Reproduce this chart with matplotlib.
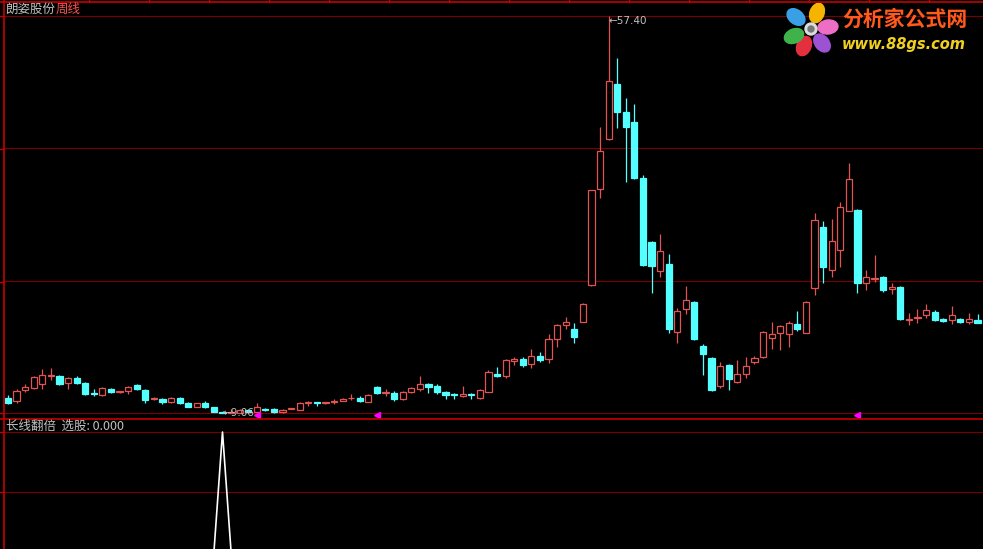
import matplotlib
matplotlib.use('Agg')
import matplotlib.pyplot as plt
from matplotlib.patches import Rectangle, Ellipse, Circle
import numpy as np

plt.rcParams['font.family'] = ['Noto Sans CJK SC', 'DejaVu Sans']

# weekly candles
opens = [10.92, 10.55, 11.89, 12.14, 12.62, 13.54, 13.60, 12.75, 13.36, 12.75,
         11.52, 11.28, 12.01, 11.59, 11.77, 12.50, 11.89, 10.73, 10.79, 10.43,
         10.92, 10.31, 9.82, 10.31, 9.82, 9.21, 9.12, 9.10, 9.45, 9.15,
         9.58, 9.58, 9.15, 9.55, 9.45, 10.28, 10.35, 10.28, 10.40, 10.55,
         10.85, 10.92, 10.43, 12.26, 11.48, 11.52, 10.79, 11.65, 12.01, 12.62,
         12.38, 11.65, 11.40, 11.16, 11.40, 10.92, 11.65, 13.84, 13.60, 15.43,
         15.67, 15.06, 16.04, 15.67, 18.11, 19.83, 19.33, 20.19, 24.70, 36.29,
         42.39, 49.10, 45.69, 44.47, 37.63, 29.83, 26.29, 27.26, 18.97, 21.77,
         22.63, 17.26, 15.80, 12.38, 14.94, 12.87, 13.84, 15.31, 15.92, 18.24,
         18.85, 18.73, 19.94, 18.85, 24.34, 31.66, 26.53, 28.85, 33.61, 33.73,
         24.95, 25.38, 25.68, 24.21, 24.46, 20.43, 20.67, 21.04, 21.41, 20.55,
         20.43, 20.55, 20.19, 20.43]
highs = [11.28, 12.01, 12.62, 13.60, 14.45, 14.58, 13.72, 13.48, 13.60, 12.87,
         12.01, 12.26, 12.14, 11.77, 12.38, 12.62, 12.01, 11.04, 10.92, 11.04,
         11.04, 10.43, 10.31, 10.55, 9.82, 9.33, 9.58, 9.58, 9.58, 10.31,
         9.62, 9.65, 9.50, 9.70, 10.35, 10.55, 10.40, 10.43, 10.79, 10.85,
         11.40, 11.16, 11.32, 12.38, 12.01, 11.77, 11.77, 12.26, 13.60, 12.75,
         12.62, 11.77, 11.45, 12.38, 11.45, 12.01, 14.33, 14.70, 15.67, 15.92,
         15.92, 16.89, 16.53, 18.66, 19.94, 20.80, 20.07, 22.45, 36.25, 43.86,
         57.40, 52.27, 47.39, 46.66, 38.00, 29.95, 30.80, 28.36, 21.90, 24.58,
         22.75, 17.50, 15.92, 15.31, 15.06, 15.55, 15.92, 16.04, 19.09, 20.19,
         19.83, 20.31, 21.53, 22.75, 33.36, 32.39, 32.63, 34.71, 39.46, 33.85,
         26.53, 28.24, 25.80, 24.83, 24.58, 21.29, 21.77, 22.39, 21.65, 20.67,
         22.14, 20.67, 21.29, 21.16]
lows = [10.18, 10.31, 11.65, 12.01, 12.01, 13.04, 12.50, 12.01, 12.62, 11.28,
        11.16, 11.16, 11.52, 11.52, 11.40, 11.89, 10.31, 10.67, 10.18, 10.31,
        10.18, 9.82, 9.82, 9.70, 9.21, 9.06, 9.08, 9.08, 9.10, 9.10,
        9.35, 9.10, 9.10, 9.50, 9.42, 9.94, 9.94, 10.20, 10.18, 10.50,
        10.67, 10.43, 10.40, 11.40, 11.16, 10.55, 10.67, 11.52, 11.77, 11.52,
        11.40, 10.79, 10.79, 11.04, 10.79, 10.79, 11.60, 13.48, 13.36, 14.94,
        14.70, 14.58, 15.31, 15.19, 17.08, 19.33, 17.63, 20.12, 24.58, 35.19,
        42.30, 43.73, 37.14, 37.51, 27.02, 23.73, 25.68, 18.85, 17.63, 21.16,
        17.99, 13.72, 11.77, 12.14, 11.89, 12.75, 13.36, 15.06, 15.80, 16.89,
        16.77, 17.14, 19.09, 18.80, 23.48, 24.95, 25.68, 26.78, 33.60, 23.73,
        24.09, 25.07, 23.85, 23.60, 20.43, 19.82, 20.07, 20.67, 20.31, 20.19,
        19.94, 20.07, 19.94, 20.00]
closes = [10.31, 11.77, 12.26, 13.48, 13.72, 13.66, 12.62, 13.36, 12.75, 11.40,
          11.40, 12.14, 11.65, 11.71, 12.26, 12.01, 10.67, 10.85, 10.43, 10.92,
          10.31, 9.82, 10.31, 9.82, 9.21, 9.09, 9.20, 9.45, 9.15, 9.82,
          9.45, 9.15, 9.45, 9.62, 10.31, 10.35, 10.28, 10.35, 10.47, 10.79,
          10.92, 10.55, 11.28, 11.52, 11.56, 10.79, 11.65, 12.14, 12.62, 12.26,
          11.65, 11.28, 11.30, 11.40, 11.28, 11.89, 14.09, 13.60, 15.55, 15.67,
          14.94, 16.04, 15.55, 18.03, 19.83, 20.19, 18.36, 22.39, 36.17, 40.93,
          49.47, 45.69, 43.86, 37.63, 27.14, 26.90, 28.73, 19.33, 21.53, 22.87,
          18.11, 16.28, 11.89, 14.82, 13.23, 13.84, 14.82, 15.80, 18.97, 18.73,
          19.70, 20.07, 19.33, 22.63, 32.51, 26.78, 29.95, 34.10, 37.51, 24.83,
          25.68, 25.50, 24.09, 24.46, 20.55, 20.55, 20.80, 21.65, 20.43, 20.31,
          21.04, 20.19, 20.55, 20.07]

# 长线翻倍 选股 signal
signal = [0, 0, 0, 0, 0, 0, 0, 0, 0, 0,
          0, 0, 0, 0, 0, 0, 0, 0, 0, 0,
          0, 0, 0, 0, 0, 1, 0, 0, 0, 0,
          0, 0, 0, 0, 0, 0, 0, 0, 0, 0,
          0, 0, 0, 0, 0, 0, 0, 0, 0, 0,
          0, 0, 0, 0, 0, 0, 0, 0, 0, 0,
          0, 0, 0, 0, 0, 0, 0, 0, 0, 0,
          0, 0, 0, 0, 0, 0, 0, 0, 0, 0,
          0, 0, 0, 0, 0, 0, 0, 0, 0, 0,
          0, 0, 0, 0, 0, 0, 0, 0, 0, 0,
          0, 0, 0, 0, 0, 0, 0, 0, 0, 0,
          0, 0, 0, 0]
marks = [29, 43, 99]

UP = '#e05454'
DOWN = '#54ffff'
FRAME = '#c40000'
GRID = '#780000'
TXT = '#c0c0c0'

W, H = 983, 549
step = 8.58  # px per candle


def box(x0, y0, x1, y1):
    return [x0 / W, 1 - y1 / H, (x1 - x0) / W, (y1 - y0) / H]


fig = plt.figure(figsize=(W / 100, H / 100), dpi=100, facecolor='black')

# main price panel
ax = fig.add_axes(box(4, 2, 983, 419))
ax.set_axis_off()
n = len(opens)
hi, lo = max(highs), min(lows)
scale = (hi - lo) / (413 - 16)
ax.set_xlim((4 - 8) / step, (983 - 8) / step)
ax.set_ylim(lo - (419 - 413) * scale, hi + (16 - 2) * scale)

for v in np.linspace(lo, hi, 4):
    ax.axhline(v, color=GRID, lw=0.8, zorder=0)

bw = 0.72
for i, (o, h, l, c) in enumerate(zip(opens, highs, lows, closes)):
    if c >= o:
        top = max(c, o + 0.06)
        ax.vlines(i, top, h, color=UP, lw=0.9)
        ax.vlines(i, l, o, color=UP, lw=0.9)
        ax.add_patch(Rectangle((i - bw / 2, o), bw, top - o, facecolor='black',
                               edgecolor=UP, lw=0.9, zorder=2))
    else:
        ax.vlines(i, l, h, color=DOWN, lw=0.9)
        ax.add_patch(Rectangle((i - bw / 2, c), bw, o - c, facecolor=DOWN,
                               edgecolor=DOWN, lw=0.9, zorder=2))

ax.plot(marks, [lo - 2 * scale] * len(marks), linestyle='none', marker='<',
        ms=5, color='#ff00ff', zorder=4)

hi_i = highs.index(hi)
lo_i = lows.index(lo)
ax.text(hi_i, hi, '←%.2f' % hi, color=TXT, fontsize=7.5, va='top', ha='left',
        family='DejaVu Sans', zorder=5)
ax.text(lo_i, lo, '←%.2f' % lo, color=TXT, fontsize=7.5, va='center', ha='left',
        family='DejaVu Sans', zorder=5)

# indicator panel
sub = fig.add_axes(box(4, 419, 983, 549))
sub.set_axis_off()
per = 0.5 / (492 - 432)
sub.set_xlim(ax.get_xlim())
sub.set_ylim(1 - (549 - 432) * per, 1 + (432 - 419) * per)
for v in [1.0, 0.5]:
    sub.axhline(v, color=GRID, lw=0.8, zorder=0)
sub.plot(range(n), signal, color='white', lw=1.2)

# frame, header, logo
deco = fig.add_axes([0, 0, 1, 1])
deco.set_axis_off()
deco.set_xlim(0, W)
deco.set_ylim(H, 0)
deco.plot([0, W], [2, 2], color=FRAME, lw=1.2)
deco.plot([4, 4], [0, H], color=FRAME, lw=1.2)
deco.plot([0, W], [419, 419], color=FRAME, lw=1.2)
for x in range(89, W, 60):
    deco.plot([x, x], [0, 2], color=FRAME, lw=1)
for y in [16, 149, 282, 413, 432, 492]:
    deco.plot([0, 4], [y, y], color=FRAME, lw=1)

fig.text(5 / W, 1 - 9 / H, '朗姿股份', color=TXT, fontsize=9, va='center')
fig.text(56 / W, 1 - 9 / H, '周线', color='#ff5050', fontsize=9, va='center')
fig.text(6 / W, 1 - 426 / H, '长线翻倍  选股: %.3f' % signal[-1], color=TXT,
         fontsize=9, va='center')

petals = [(817, 13, '#f5b400'), (828, 27, '#ee6ec6'), (822, 43, '#9c52d2'),
          (804, 46, '#e4303e'), (794, 36, '#3fb24a'), (796, 17, '#3aa0e6')]
cx, cy = 811, 29
for px, py, col in petals:
    ang = np.degrees(np.arctan2(py - cy, px - cx))
    deco.add_patch(Ellipse((px, py), 20, 14, angle=ang, color=col))
deco.add_patch(Circle((cx, cy), 6, color='#dddddd'))
deco.add_patch(Circle((cx, cy), 3, color='#777777'))
deco.text(842, 19, '分析家公式网', color='#ff5a1e', fontsize=15, fontweight='bold',
          va='center', ha='left')
deco.text(842, 44, 'www.88gs.com', color='#f0d020', fontsize=10.5,
          fontweight='bold', style='italic', family='DejaVu Sans',
          va='center', ha='left')

fig.savefig('out.png', dpi=100, facecolor='black')
